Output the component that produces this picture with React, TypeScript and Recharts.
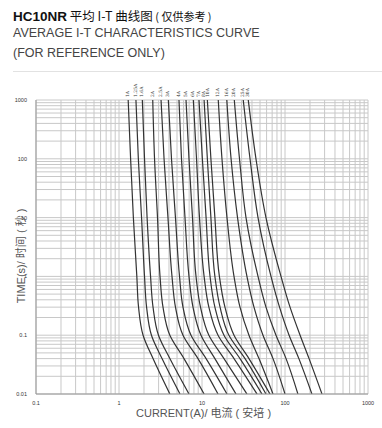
import React from 'react';
import { LineChart, Line, XAxis, YAxis, CartesianGrid, ReferenceDot } from 'recharts';

// time points (s) shared by every curve, top to bottom
const times = [1000, 100, 10, 1, 0.3, 0.1, 0.04, 0.01];

const ratings = ['1A', '1.25A', '1.6A', '2A', '2.5A', '3A', '4A', '5A', '6A', '7A', '8A', '10A', '12A', '16A', '20A', '25A', '30A'];

// current (A) at the times above
const currents = [
  [1.29, 1.38, 1.49, 1.64, 1.72, 1.95, 2.57, 4.1],
  [1.6, 1.71, 1.87, 2.03, 2.15, 2.46, 3.3, 5.43],
  [1.91, 2.03, 2.18, 2.4, 2.57, 2.99, 4.1, 6.97],
  [2.55, 2.68, 2.91, 3.12, 3.39, 4.1, 6.07, 10.6],
  [3.21, 3.49, 3.89, 4.35, 4.79, 5.9, 8.95, 15.6],
  [3.93, 4.29, 4.79, 5.36, 5.9, 7.37, 11.2, 20],
  [5.28, 5.66, 6.24, 6.97, 7.79, 9.72, 14.3, 25.7],
  [6.42, 6.97, 7.68, 8.47, 9.59, 12.1, 18.4, 34.8],
  [7.86, 8.59, 9.33, 10.6, 12.1, 15.6, 24.3, 46],
  [9.2, 10.1, 11.2, 12.5, 14.3, 18.4, 28.7, 52.8],
  [10.6, 11.6, 12.8, 14.3, 16.5, 21.1, 33, 59],
  [11.6, 12.8, 14.3, 16.2, 18.9, 24.3, 36.8, 65.9],
  [15.7, 17.4, 20, 24.3, 28.7, 36.8, 48.6, 71.7],
  [19.9, 22.4, 26.8, 34.8, 42.3, 54.3, 71.7, 100],
  [24.5, 28.3, 33.9, 47.3, 59, 77.9, 103, 143],
  [31.4, 37.9, 47.3, 67.8, 85.9, 112, 147, 211],
  [36.1, 44.7, 59, 89.5, 115, 152, 195, 279],
];

const xTicks = [0.1, 0.2, 0.3, 0.4, 0.5, 0.6, 0.7, 0.8, 0.9, 1, 2, 3, 4, 5, 6, 7, 8, 9, 10, 20, 30, 40, 50, 60, 70, 80, 90, 100, 200, 300, 400, 500, 600, 700, 800, 900, 1000];
const yTicks = [0.01, 0.02, 0.03, 0.04, 0.05, 0.06, 0.07, 0.08, 0.09, 0.1, 0.2, 0.3, 0.4, 0.5, 0.6, 0.7, 0.8, 0.9, 1, 2, 3, 4, 5, 6, 7, 8, 9, 10, 20, 30, 40, 50, 60, 70, 80, 90, 100, 200, 300, 400, 500, 600, 700, 800, 900, 1000];
const xLabels = ['0.1', '1', '10', '100', '1000'];
const yLabels = ['0.01', '0.1', '1', '10', '100', '1000'];

const curves = ratings.map((name, k) => ({
  name,
  points: times.map((t, j) => ({ i: currents[k][j], t })),
}));

const showDecade = (labels: string[]) => (v: number) => {
  const s = String(v);
  return labels.includes(s) ? s : '';
};

const sans = '"Liberation Sans", Arial, "Noto Sans CJK SC", sans-serif';

const RatingLabel = (name: string) => (props: any) => {
  const { cx, cy } = props;
  const y = cy - 3;
  return (
    <text x={cx} y={y} transform={`rotate(-90 ${cx} ${y})`} fontSize={4.5} fill="#333"
      fontFamily='"DejaVu Serif", serif' textAnchor="start" dominantBaseline="middle">
      {name}
    </text>
  );
};

export default function App() {
  return (
    <div style={{ position: 'absolute', left: 0, top: 0, width: 382, height: 428, background: '#fff', fontFamily: sans }}>
      <div style={{ position: 'absolute', left: 13, top: 6, fontSize: 12.5, color: '#111', whiteSpace: 'nowrap' }}>
        <span style={{ fontWeight: 'bold', fontSize: 13.5 }}>HC10NR</span>
        <span style={{ fontFamily: '"Noto Sans CJK SC", sans-serif' }}> 平均 I-T 曲线图</span>
        <span style={{ fontFamily: '"Noto Sans CJK SC", sans-serif', fontSize: 11 }}> ( 仅供参考 )</span>
      </div>
      <div style={{ position: 'absolute', left: 13, top: 26, fontSize: 12.5, color: '#444', whiteSpace: 'nowrap' }}>
        AVERAGE I-T CHARACTERISTICS CURVE
      </div>
      <div style={{ position: 'absolute', left: 13, top: 46, fontSize: 12.5, color: '#444', whiteSpace: 'nowrap' }}>
        (FOR REFERENCE ONLY)
      </div>
      <div style={{ position: 'absolute', left: 13, right: 0, top: 71, height: 1, background: '#e2e2e2' }} />

      <div style={{ position: 'absolute', left: 0, top: 0 }}>
        <LineChart width={382} height={428} margin={{ top: 100, right: 14, bottom: 0, left: 0 }}>
          <CartesianGrid stroke="#c8c8c8" strokeWidth={1} />
          <XAxis dataKey="i" type="number" scale="log" domain={[0.1, 1000]} ticks={xTicks}
            allowDataOverflow interval={0} tickFormatter={showDecade(xLabels)} tickLine={false}
            axisLine={{ stroke: '#999' }} height={34} tickMargin={1}
            tick={{ fontSize: 5.5, fill: '#333', fontFamily: sans }} />
          <YAxis dataKey="t" type="number" scale="log" domain={[0.01, 1000]} ticks={yTicks}
            allowDataOverflow interval={0} tickFormatter={showDecade(yLabels)} tickLine={false}
            axisLine={{ stroke: '#999' }} width={36} tickMargin={3}
            tick={{ fontSize: 5.5, fill: '#333', fontFamily: sans }} />
          {curves.map(c => (
            <Line key={c.name} data={c.points} dataKey="t" type="monotoneY" stroke="#333"
              strokeWidth={1.2} dot={false} isAnimationActive={false} />
          ))}
          {curves.map(c => (
            <ReferenceDot key={'l' + c.name} x={c.points[0].i} y={c.points[0].t} r={0}
              ifOverflow="visible" shape={RatingLabel(c.name)} />
          ))}
        </LineChart>
      </div>

      <div style={{ position: 'absolute', left: 136, top: 404, fontSize: 11, color: '#555', whiteSpace: 'nowrap' }}>
        CURRENT(A)/ 电流 ( 安培 )
      </div>
      <div style={{ position: 'absolute', left: 20, top: 256, fontSize: 11, color: '#555', whiteSpace: 'nowrap',
        transform: 'translate(-50%, -50%) rotate(-90deg)' }}>
        TIME(s)/ 时间 ( 秒 )
      </div>
    </div>
  );
}
